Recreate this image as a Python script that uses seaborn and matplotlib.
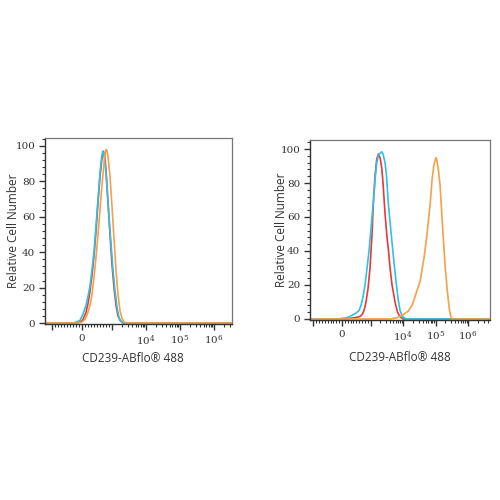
import numpy as np
import pandas as pd
import seaborn as sns
import matplotlib.pyplot as plt
from matplotlib.ticker import FixedLocator, FixedFormatter, MultipleLocator

# fluorescence intensity (x) and relative cell number (y)
l_red_x = [-1700, -200, -67, 33, 134, 200, 267, 334, 401, 468, 535, 602, 668, 719, 769, 819, 869, 936, 1005, 1151, 1318, 1510, 1729, 2118, 3.4e6]
l_red_y = [0, 0, 0.5, 2, 6, 11, 18, 27, 38, 52, 68, 83, 93, 97, 93, 82, 68, 50, 33, 20, 10, 4, 1.5, 0, 0]
l_cyan_x = [-1700, -301, -200, -67, 33, 134, 200, 267, 334, 401, 468, 535, 602, 652, 692, 735, 785, 836, 902, 969, 1076, 1233, 1410, 1615, 1849, 2265, 3.4e6]
l_cyan_y = [0, 0, 0.5, 1.5, 5, 10, 15, 21, 30, 40, 55, 70, 85, 93, 97, 95, 88, 77, 60, 45, 30, 18, 9, 3, 1, 0, 0]
l_orange_x = [-1700, -134, 0, 100, 200, 267, 334, 401, 468, 535, 602, 668, 735, 769, 802, 836, 869, 936, 1005, 1151, 1318, 1510, 1729, 1977, 2265, 2780, 3.4e6]
l_orange_y = [0, 0, 0.5, 2, 6, 10, 16, 26, 37, 50, 64, 78, 90, 95, 98, 97.5, 94, 83, 66, 48, 30, 16, 7, 2.5, 0.5, 0, 0]

r_red_x = [-1280, 105, 350, 524, 629, 699, 769, 839, 909, 979, 1104, 1211, 1366, 1541, 1725, 1946, 2195, 2407, 2773, 3196, 3555, 3954, 4555, 5634, 6725, 8030, 9931, 4.7e6]
r_red_y = [0, 0, 0.5, 1, 1.5, 2.5, 5, 10, 18, 30, 50, 68, 84, 94, 97, 95, 89, 80, 62, 48, 40, 30, 20, 10, 4, 1.5, 0, 0]
r_cyan_x = [-1280, -175, 0, 175, 280, 385, 490, 594, 664, 734, 804, 874, 944, 997, 1104, 1211, 1366, 1541, 1750, 1946, 2195, 2407, 2773, 3085, 3431, 3954, 4555, 5248, 6046, 6967, 8030, 9252, 10660, 13180, 4.7e6]
r_cyan_y = [0, 0, 0.3, 0.8, 1.5, 2.5, 3.5, 5, 8, 13, 20, 30, 40, 50, 60, 69, 82, 92, 96.5, 97.5, 98.4, 97, 92, 84, 70, 57, 45, 33, 22, 12, 5, 2, 0.7, 0, 0]
r_orange_x = [-1280, 3954, 6486, 9931, 14150, 18790, 24950, 33110, 43950, 54330, 67300, 77450, 89330, 95940, 102800, 110400, 122700, 136500, 152000, 172600, 194500, 224400, 258200, 287100, 319800, 4.7e6]
r_orange_y = [0, 0, 0.7, 2.5, 4.5, 8, 15, 22, 36, 50, 67, 82, 91, 93, 95, 93, 87, 79, 64, 47, 32, 18, 7, 2, 0, 0]

samples = ["red", "cyan", "orange"]
colors = ["#e8383a", "#2cc3e6", "#f5a04a"]

tick_pos = [-1000, 0, 1000, 1e4, 1e5, 1e6]
tick_lab = ["", "0", "", r"$10^{4}$", r"$10^{5}$", r"$10^{6}$"]


def to_frame(xs, ys):
    parts = []
    for name, x, y in zip(samples, xs, ys):
        parts.append(pd.DataFrame({"value": x, "count": y, "sample": name}))
    return pd.concat(parts, ignore_index=True)


left = to_frame([l_red_x, l_cyan_x, l_orange_x], [l_red_y, l_cyan_y, l_orange_y])
right = to_frame([r_red_x, r_cyan_x, r_orange_x], [r_red_y, r_cyan_y, r_orange_y])

sns.set_style("ticks")
plt.rcParams["mathtext.fontset"] = "dejavuserif"

fig = plt.figure(figsize=(5, 5), dpi=100)
ax1 = fig.add_axes([0.09, 0.352, 0.374, 0.372])
ax2 = fig.add_axes([0.62, 0.36, 0.36, 0.36])

minor = []
for d in [1e3, 1e4, 1e5, 1e6]:
    minor += [d * k for k in range(2, 10)]
minor += [-k * 100 for k in range(1, 10)] + [k * 100 for k in range(1, 10)]

panels = [
    (ax1, left, (-1615, 3.4e6, -0.56, 104.5), (-0.171, 0.5), (0.47, -0.183)),
    (ax2, right, (-1274, 4.7e6, -0.6, 105.3), (-0.161, 0.5), (0.5, -0.211)),
]

for ax, df, lims, ylc, xlc in panels:
    sns.lineplot(data=df, x="value", y="count", hue="sample", hue_order=samples,
                 palette=colors, sort=False, estimator=None, linewidth=1.2,
                 legend=False, ax=ax)
    ax.set_xscale("symlog", linthresh=1000, linscale=0.792)
    ax.set_xlim(lims[0], lims[1])
    ax.set_ylim(lims[2], lims[3])
    ax.xaxis.set_major_locator(FixedLocator(tick_pos))
    ax.xaxis.set_major_formatter(FixedFormatter(tick_lab))
    ax.xaxis.set_minor_locator(FixedLocator(minor))
    ax.yaxis.set_major_locator(MultipleLocator(20))
    ax.yaxis.set_minor_locator(MultipleLocator(4))
    ax.tick_params(which="major", length=4, width=1, color="#333333", labelsize=7.5,
                   labelcolor="#333333", pad=3)
    ax.tick_params(which="minor", length=2, width=0.8, color="#333333")
    for lab in ax.get_xticklabels() + ax.get_yticklabels():
        lab.set_fontfamily("DejaVu Serif")
    for side in ["left", "bottom"]:
        ax.spines[side].set_color("#333333")
        ax.spines[side].set_linewidth(1)
    for side in ["top", "right"]:
        ax.spines[side].set_visible(True)
        ax.spines[side].set_color("#777777")
        ax.spines[side].set_linewidth(0.9)
    ax.set_ylabel("Relative Cell Number", fontsize=8.5, family="Open Sans", color="#333333", va="center")
    ax.set_xlabel("CD239-ABflo® 488", fontsize=8.5, family="Open Sans", color="#333333", va="center")
    ax.yaxis.set_label_coords(*ylc)
    ax.xaxis.set_label_coords(*xlc)

fig.savefig("out.png", dpi=100)
